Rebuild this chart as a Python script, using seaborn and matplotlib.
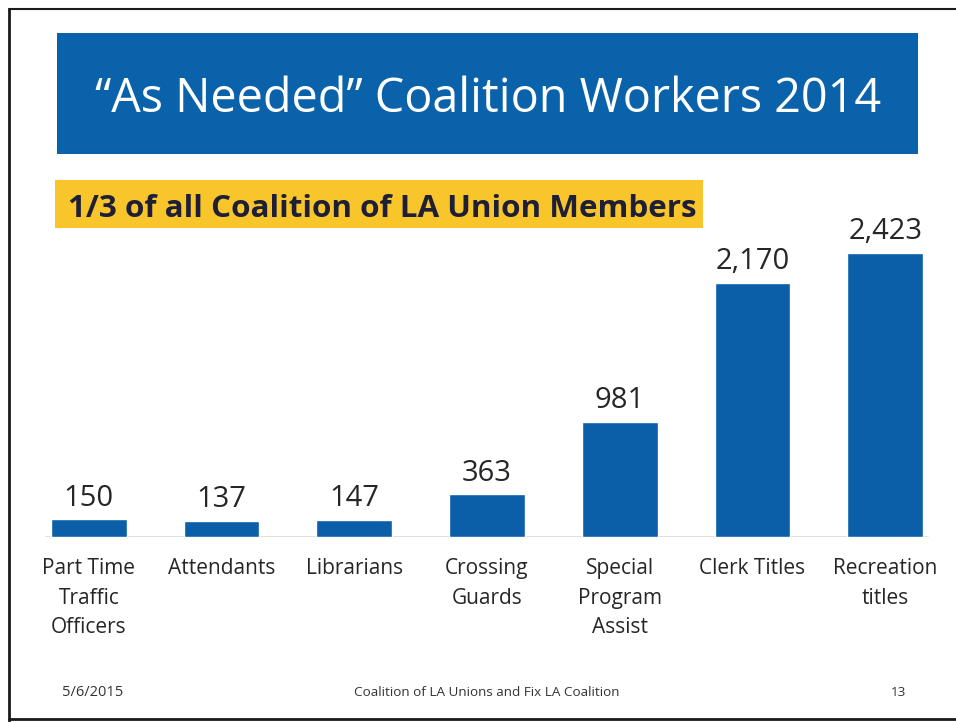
import matplotlib
matplotlib.use("Agg")
import matplotlib.pyplot as plt
from matplotlib.patches import Rectangle
from matplotlib.lines import Line2D
import seaborn as sns
import pandas as pd

# Worker counts by job group
categories = ["Part Time\nTraffic\nOfficers", "Attendants", "Librarians",
              "Crossing\nGuards", "Special\nProgram\nAssist", "Clerk Titles",
              "Recreation\ntitles"]
workers = [150, 137, 147, 363, 981, 2170, 2423]

title = "\u201cAs Needed\u201d Coalition Workers 2014"
subtitle = "1/3 of all Coalition of LA Union Members"
footer_date = "5/6/2015"
footer_source = "Coalition of LA Unions and Fix LA Coalition"
page_number = "13"

BLUE = "#0B5FA8"
BANNER = "#0A62AB"
YELLOW = "#F8C62A"
TEXT = "#262626"

sns.set_theme(style="white")
plt.rcParams["font.family"] = ["Open Sans", "DejaVu Sans"]

df = pd.DataFrame({"group": categories, "workers": workers})

fig = plt.figure(figsize=(9.56, 7.22), dpi=100)
fig.patch.set_facecolor("white")

ax = fig.add_axes([0.0235, 0.2562, 0.9718, 0.422])
sns.barplot(data=df, x="group", y="workers", color=BLUE, saturation=1,
            width=0.57, ax=ax)
ax.set_xlim(-0.5, len(categories) - 0.5)
ax.set_ylim(0, 2600)
ax.set_xlabel("")
ax.set_ylabel("")
ax.set_yticks([])
for side in ["top", "right", "left", "bottom"]:
    ax.spines[side].set_visible(False)
ax.axhline(0, xmin=0.025, xmax=0.975, color="#D9D9D9", lw=1.2, zorder=0)
ax.tick_params(axis="x", length=0, pad=15, labelsize=15, labelcolor=TEXT)
for lbl in ax.get_xticklabels():
    lbl.set_linespacing(1.55)
    lbl.set_va("top")

ax.bar_label(ax.containers[0], labels=[f"{v:,}" for v in workers],
             padding=5, fontsize=21, color=TEXT)

# Title banner
fig.patches.append(Rectangle((0.0596, 0.7867), 0.9006, 0.1676,
                             transform=fig.transFigure, facecolor=BANNER,
                             edgecolor="none", zorder=0))
fig.text(0.511, 0.845, title, ha="center", va="baseline", color="white",
         fontsize=33.7)

# Yellow subtitle box
fig.patches.append(Rectangle((0.0575, 0.6842), 0.678, 0.0665,
                             transform=fig.transFigure, facecolor=YELLOW,
                             edgecolor="none", zorder=0))
fig.text(0.0711, 0.6994, subtitle, ha="left", va="baseline", color="#1E1E36",
         fontsize=22.6, fontweight="bold")

# Footer
fig.text(0.097, 0.036, footer_date, ha="center", va="baseline",
         fontsize=10.5, color="#333333")
fig.text(0.509, 0.036, footer_source, ha="center", va="baseline",
         fontsize=9.7, color="#333333")
fig.text(0.94, 0.036, page_number, ha="center", va="baseline",
         fontsize=9.7, color="#333333")

# Page frame
for xs, ys, lw in [([0.009, 0.009], [0.0, 0.987], 2.0),
                   ([0.009, 1.0], [0.988, 0.988], 1.5),
                   ([0.009, 1.0], [0.004, 0.004], 2.0)]:
    fig.lines.append(Line2D(xs, ys, transform=fig.transFigure,
                            color="#1A1A1A", lw=lw))

fig.savefig("out.png", dpi=100)
